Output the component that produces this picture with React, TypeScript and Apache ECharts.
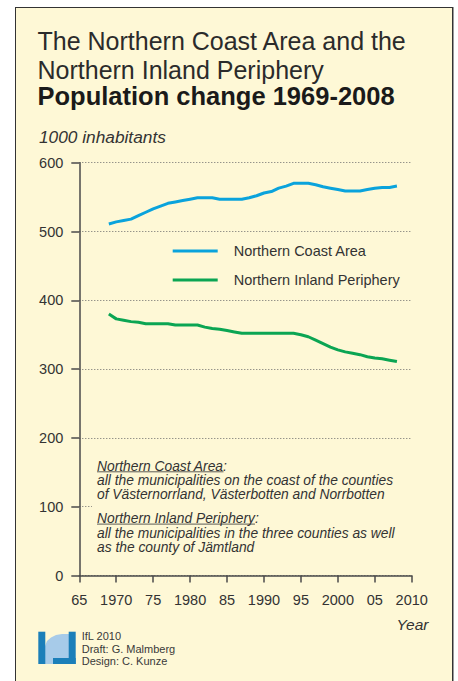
import React, { useEffect, useRef } from "react";
import * as echarts from "echarts";

const years = [
  1969, 1970, 1971, 1972, 1973, 1974, 1975, 1976, 1977, 1978,
  1979, 1980, 1981, 1982, 1983, 1984, 1985, 1986, 1987, 1988,
  1989, 1990, 1991, 1992, 1993, 1994, 1995, 1996, 1997, 1998,
  1999, 2000, 2001, 2002, 2003, 2004, 2005, 2006, 2007, 2008,
];

const coastValues = [
  511, 514, 516, 518, 523, 528, 533, 537, 541, 543,
  545, 547, 549, 549, 549, 547, 547, 547, 547, 549,
  552, 556, 558, 563, 566, 570, 570, 570, 568, 565,
  563, 561, 559, 559, 559, 561, 563, 564, 564, 566,
];

const inlandValues = [
  380, 373, 371, 369, 368, 366, 366, 366, 366, 364,
  364, 364, 364, 361, 359, 358, 356, 354, 352, 352,
  352, 352, 352, 352, 352, 352, 350, 347, 342, 337,
  332, 328, 325, 323, 321, 318, 316, 315, 313, 311,
];

const seriesNames = ["Northern Coast Area", "Northern Inland Periphery"];
const seriesColors = ["#0aa3dc", "#0ba553"];

const titleLines = [
  "The Northern Coast Area and the",
  "Northern Inland Periphery",
];
const titleBold = "Population change 1969-2008";
const unitLabel = "1000 inhabitants";
const xAxisName = "Year";

const noteHeads = ["Northern Coast Area", "Northern Inland Periphery"];
const noteLines1 = [
  "all the municipalities on the coast of the counties",
  "of Västernorrland, Västerbotten and Norrbotten",
];
const noteLines2 = [
  "all the municipalities in the three counties as well",
  "as the county of Jämtland",
];
const credits = ["IfL 2010", "Draft: G. Malmberg", "Design: C. Kunze"];

const FONT = "'Liberation Sans', Arial, Helvetica, sans-serif";
const TEXT = "#333333";
const BG = "#fef8d6";

function measure(text: string, font: string): number {
  const c = document.createElement("canvas").getContext("2d");
  if (!c) return text.length * 7;
  c.font = font;
  return c.measureText(text).width;
}

function xLabel(v: number): string {
  const s = String(v);
  return v % 10 === 0 ? s : s.slice(2);
}

export default function App() {
  const ref = useRef<HTMLDivElement>(null);

  useEffect(() => {
    if (!ref.current) return;
    const chart = echarts.init(ref.current, null, { renderer: "svg" });

    const noteFont = `italic 13.8px ${FONT}`;
    const u1 = measure(noteHeads[0], noteFont);
    const u2 = measure(noteHeads[1], noteFont);
    const noteX = 97;

    const noteText = (text: string, y: number) => ({
      type: "text",
      x: noteX,
      y,
      z: 100,
      style: {
        text,
        font: noteFont,
        lineHeight: 12.5,
        fill: TEXT,
        verticalAlign: "middle",
      },
    });

    const option: any = {
      animation: false,
      backgroundColor: "transparent",
      grid: { left: 79.3, right: 46.3, top: 162.7, bottom: 105.5 },
      legend: {
        orient: "vertical",
        left: 172.7,
        top: 243.5,
        padding: 0,
        icon: "rect",
        itemWidth: 45,
        itemHeight: 3,
        itemGap: 14,
        data: seriesNames,
        textStyle: {
          fontFamily: FONT,
          fontSize: 14.5,
          color: TEXT,
          lineHeight: 15,
          padding: [0, 0, 0, 11],
        },
      },
      xAxis: {
        type: "value",
        min: 1965,
        max: 2010,
        interval: 5,
        axisLine: { lineStyle: { color: "#4a4a4a", width: 1.5 } },
        axisTick: { show: true, length: 7, lineStyle: { color: "#4a4a4a", width: 1.5 } },
        axisLabel: {
          margin: 17,
          fontFamily: FONT,
          fontSize: 14.5,
          color: TEXT,
          formatter: (v: number) => xLabel(v),
        },
        splitLine: { show: false },
      },
      yAxis: {
        type: "value",
        min: 0,
        max: 600,
        interval: 100,
        axisLine: { show: true, lineStyle: { color: "#4a4a4a", width: 1.5 } },
        axisTick: { show: true, length: 8, lineStyle: { color: "#4a4a4a", width: 1.5 } },
        axisLabel: {
          margin: 16,
          fontFamily: FONT,
          fontSize: 14.5,
          color: TEXT,
        },
        splitLine: {
          show: true,
          lineStyle: { color: "#6a6a6a", width: 1, type: [1, 2] },
        },
      },
      series: [
        {
          name: seriesNames[0],
          type: "line",
          data: years.map((y, i) => [y, coastValues[i]]),
          showSymbol: false,
          symbol: "none",
          lineStyle: { color: seriesColors[0], width: 3 },
          itemStyle: { color: seriesColors[0] },
        },
        {
          name: seriesNames[1],
          type: "line",
          data: years.map((y, i) => [y, inlandValues[i]]),
          showSymbol: false,
          symbol: "none",
          lineStyle: { color: seriesColors[1], width: 3 },
          itemStyle: { color: seriesColors[1] },
        },
      ],
      graphic: [
        {
          type: "text",
          x: 37.5,
          y: 41,
          style: {
            text: titleLines[0],
            font: `25px ${FONT}`,
            fill: "#2b2b2b",
            verticalAlign: "middle",
          },
        },
        {
          type: "text",
          x: 37.5,
          y: 70,
          style: {
            text: titleLines[1],
            font: `25px ${FONT}`,
            fill: "#2b2b2b",
            verticalAlign: "middle",
          },
        },
        {
          type: "text",
          x: 37.5,
          y: 95.5,
          style: {
            text: titleBold,
            font: `bold 25.5px ${FONT}`,
            fill: "#1a1a1a",
            verticalAlign: "middle",
          },
        },
        {
          type: "text",
          x: 39,
          y: 137,
          style: {
            text: unitLabel,
            font: `italic 17.3px ${FONT}`,
            fill: TEXT,
            verticalAlign: "middle",
          },
        },
        {
          type: "text",
          x: 428.5,
          y: 624,
          style: {
            text: xAxisName,
            font: `italic 15.5px ${FONT}`,
            fill: TEXT,
            align: "right",
            verticalAlign: "middle",
          },
        },
        {
          type: "rect",
          z: 99,
          shape: { x: 92, y: 456, width: 322, height: 100 },
          style: { fill: BG },
        },
        noteText(noteHeads[0] + ":", 466),
        {
          type: "line",
          z: 100,
          shape: { x1: noteX, y1: 471.8, x2: noteX + u1, y2: 471.8 },
          style: { stroke: TEXT, lineWidth: 0.8 },
        },
        noteText(noteLines1[0], 480.5),
        noteText(noteLines1[1], 494.7),
        noteText(noteHeads[1] + ":", 518.3),
        {
          type: "line",
          z: 100,
          shape: { x1: noteX, y1: 524.1, x2: noteX + u2, y2: 524.1 },
          style: { stroke: TEXT, lineWidth: 0.8 },
        },
        noteText(noteLines2[0], 533.7),
        noteText(noteLines2[1], 547.3),
        // logo
        {
          type: "polygon",
          shape: {
            points: [
              [45, 664], [45, 646], [47, 641], [51, 637.5], [56, 635],
              [62, 634], [69, 634], [69, 658], [53, 658], [53, 664],
            ],
          },
          style: { fill: "#a7cbe9" },
        },
        {
          type: "rect",
          shape: { x: 38.3, y: 631.7, width: 7, height: 32.3 },
          style: { fill: "#1b7fb9" },
        },
        {
          type: "rect",
          shape: { x: 68.7, y: 631.7, width: 7, height: 32.3 },
          style: { fill: "#1b7fb9" },
        },
        {
          type: "rect",
          shape: { x: 53, y: 658, width: 22.7, height: 6 },
          style: { fill: "#1b7fb9" },
        },
        ...credits.map((t, i) => ({
          type: "text",
          x: 81.7,
          y: 636 + i * 12.6,
          style: {
            text: t,
            font: `11px ${FONT}`,
            lineHeight: 11,
            fill: "#3a3a3a",
            verticalAlign: "middle",
          },
        })),
      ],
    };

    chart.setOption(option);
    return () => chart.dispose();
  }, []);

  return (
    <div
      style={{
        position: "fixed",
        left: 0,
        top: 0,
        width: 458,
        height: 681,
        background: "#ffffff",
        overflow: "hidden",
      }}
    >
      <div
        style={{
          position: "absolute",
          left: 14.5,
          top: 7,
          width: 438,
          height: 700,
          boxSizing: "border-box",
          border: "1.2px solid #333",
          background: BG,
          boxShadow: "1px 0 0 #9a9a9a",
        }}
      />
      <div
        ref={ref}
        style={{ position: "absolute", left: 0, top: 0, width: 458, height: 681 }}
      />
    </div>
  );
}
